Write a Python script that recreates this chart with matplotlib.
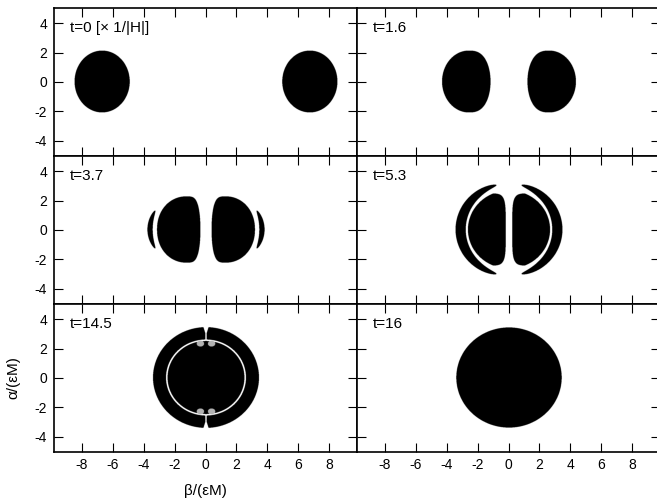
import numpy as np
import matplotlib
matplotlib.use("Agg")
import matplotlib.pyplot as plt

plt.rcParams['font.family'] = ['Liberation Sans', 'DejaVu Sans']
plt.rcParams['axes.unicode_minus'] = False

# panel labels, in reading order
times = ["t=0 [× 1/|H|]", "t=1.6", "t=3.7", "t=5.3", "t=14.5", "t=16"]

x_ticks = [-8, -6, -4, -2, 0, 2, 4, 6, 8]
y_ticks = [-4, -2, 0, 2, 4]
x_lim = (-9.8, 9.8)
y_lim = (-5.05, 5.05)

# t=0 : two ellipses (centre x, half width, half height)
t0_cx = [-6.7, 6.7]
t0_w = 1.78
t0_h = 2.1

# t=1.6 : egg shapes (centre x, outer w, inner w, outer p, inner p, h)
t1_cx = [-2.6, 2.6]
t1_w_out = 1.72
t1_w_in = 1.41
t1_p = [2.0, 2.7]
t1_h = 2.1

# t=3.7 : D shaped blobs + thin arcs
t2_cx = [-1.3, 1.3]
t2_w_out = 1.86
t2_w_in = 0.94
t2_p = [2.0, 4.0]
t2_h = 2.25
t2_q = 2.15
t2_arc_cx = [-0.96, 0.96]
t2_arc_r = 2.65
t2_arc_w = 0.34
t2_arc_phi = 29.0

# t=5.3 : outer crescents, inner blobs
t3_arc_r = 3.12
t3_arc_w = 0.66
t3_arc_phi = 75.0
t3_blob_cx = [-1.4, 1.4]
t3_blob_r = 2.65
t3_blob_w_in = 1.19
t3_blob_h = 2.45

# t=14.5 : disk with thin ring, top/bottom notches
t4_r = 3.42
t4_ring_r = 2.53
t4_ring_w = 0.1
t4_pocket_x = [-0.36, 0.36]
t4_pocket_y = [-2.3, 2.3]
t4_pocket_r = 0.24
t4_pocket_tone = 0.3

# t=16 : single disk
t5_r = 3.4


xs = np.linspace(x_lim[0], x_lim[1], 1400)
ys = np.linspace(y_lim[0], y_lim[1], 720)
X, Y = np.meshgrid(xs, ys)
R = np.hypot(X, Y)


def egg(cx, w_out, w_in, p_out, p_in, h, q=2.0):
    dx = X - cx
    outer = dx * np.sign(cx) > 0
    w = np.where(outer, w_out, w_in)
    p = np.where(outer, p_out, p_in)
    return (np.abs(dx) / w) ** p + (np.abs(Y) / h) ** q <= 1


def arc(cx, direction, rm, w, phimax):
    dx = X - cx
    r = np.hypot(dx, Y)
    phi = np.degrees(np.arctan2(Y, direction * dx))
    f = np.sqrt(np.clip(np.cos(np.radians(phi) / np.radians(phimax) * np.pi / 2), 0, 1))
    return (np.abs(phi) < phimax) & (np.abs(r - rm) < w / 2 * f)


def panel_images():
    m0 = egg(t0_cx[0], t0_w, t0_w, 2, 2, t0_h) | egg(t0_cx[1], t0_w, t0_w, 2, 2, t0_h)

    m1 = np.zeros_like(X, dtype=bool)
    for c in t1_cx:
        m1 |= egg(c, t1_w_out, t1_w_in, t1_p[0], t1_p[1], t1_h)

    m2 = np.zeros_like(X, dtype=bool)
    for c in t2_cx:
        m2 |= egg(c, t2_w_out, t2_w_in, t2_p[0], t2_p[1], t2_h, t2_q)
    for c in t2_arc_cx:
        m2 |= arc(c, np.sign(c), t2_arc_r, t2_arc_w, t2_arc_phi)

    m3 = arc(0, -1, t3_arc_r, t3_arc_w, t3_arc_phi) | arc(0, 1, t3_arc_r, t3_arc_w, t3_arc_phi)
    for c in t3_blob_cx:
        dx = X - c
        inner_ok = (dx * np.sign(c) > 0) | ((np.abs(dx) / t3_blob_w_in) ** 5
                                            + (np.abs(Y) / t3_blob_h) ** 5 <= 1)
        m3 |= (R < t3_blob_r) & (np.abs(Y) < t3_blob_h) & inner_ok

    m4 = R < t4_r
    m4 &= ~(np.abs(R - t4_ring_r) < t4_ring_w / 2)
    gap = np.abs(X) < 0.04 + 0.3 * np.clip(np.abs(Y) - 3.0, 0, None)
    m4 &= ~(gap & (np.abs(Y) > 2.55))
    img4 = m4.astype(float)
    for px in t4_pocket_x:
        for py in t4_pocket_y:
            pocket = np.hypot(X - px, (Y - py) * 1.2) < t4_pocket_r
            img4[pocket] = t4_pocket_tone

    m5 = R < t5_r
    return [m0.astype(float), m1.astype(float), m2.astype(float),
            m3.astype(float), img4, m5.astype(float)]


fig = plt.figure(figsize=(6.57, 4.99), dpi=100)
gs = fig.add_gridspec(3, 2, left=0.0822, right=1.0046, top=0.984, bottom=0.0942,
                      wspace=0, hspace=0)

images = panel_images()
for i, img in enumerate(images):
    row, col = divmod(i, 2)
    ax = fig.add_subplot(gs[row, col])
    ax.imshow(img, extent=[x_lim[0], x_lim[1], y_lim[0], y_lim[1]],
              origin='lower', cmap='gray_r', vmin=0, vmax=1, aspect='auto',
              interpolation='antialiased')
    ax.set_xlim(x_lim)
    ax.set_ylim(y_lim)
    ax.set_xticks(x_ticks)
    ax.set_yticks(y_ticks)
    ax.tick_params(direction='in', length=6.5, width=0.8, top=True, right=True,
                   labelsize=10, colors='black')
    ax.tick_params(axis='x', pad=4)
    ax.tick_params(axis='y', pad=5)
    for s in ax.spines.values():
        s.set_linewidth(1.2)
    if row < 2:
        ax.set_xticklabels([])
    if col > 0:
        ax.set_yticklabels([])
    ax.text(0.053, 0.915, times[i], transform=ax.transAxes, fontsize=11,
            ha='left', va='top')
    if row == 2 and col == 0:
        ax.set_xlabel("β/(εM)", fontsize=11, labelpad=9)
        ax.set_ylabel("α/(εM)", fontsize=11, labelpad=10)

fig.savefig("out.png", dpi=100)
